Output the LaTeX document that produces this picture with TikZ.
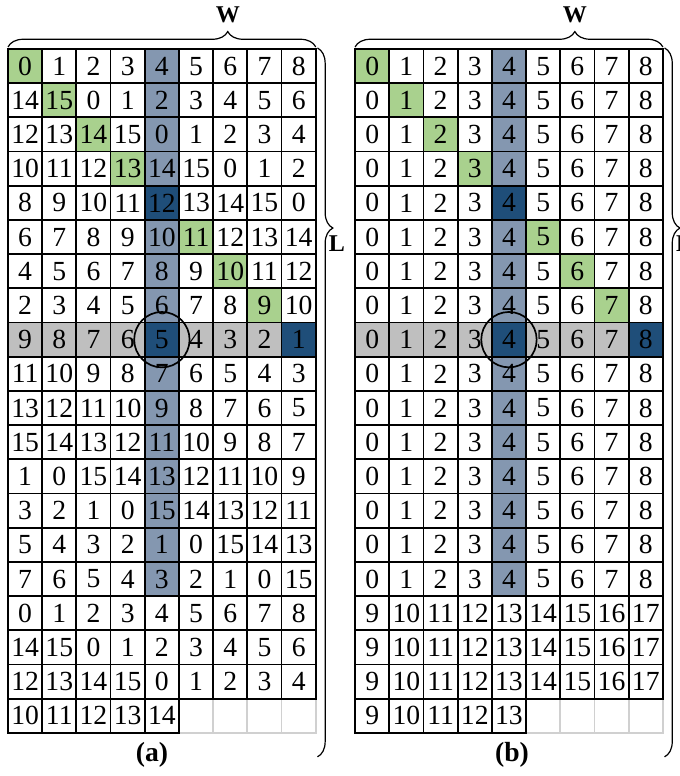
\documentclass[tikz,border=0pt]{standalone}
\usepackage{fontspec}
\setmainfont{Liberation Serif}
\usetikzlibrary{decorations.pathreplacing}

\definecolor{cellgreen}{HTML}{A9D18E}
\definecolor{cellblue}{HTML}{8497B0}
\definecolor{celldark}{HTML}{1F4E79}
\definecolor{cellgray}{HTML}{BFBFBF}
\definecolor{emptygray}{HTML}{D0D0D0}

% rows of the two tables
\newcommand\rowsA{{0,1,2,3,4,5,6,7,8},{14,15,0,1,2,3,4,5,6},{12,13,14,15,0,1,2,3,4},
  {10,11,12,13,14,15,0,1,2},{8,9,10,11,12,13,14,15,0},{6,7,8,9,10,11,12,13,14},
  {4,5,6,7,8,9,10,11,12},{2,3,4,5,6,7,8,9,10},{9,8,7,6,5,4,3,2,1},
  {11,10,9,8,7,6,5,4,3},{13,12,11,10,9,8,7,6,5},{15,14,13,12,11,10,9,8,7},
  {1,0,15,14,13,12,11,10,9},{3,2,1,0,15,14,13,12,11},{5,4,3,2,1,0,15,14,13},
  {7,6,5,4,3,2,1,0,15},{0,1,2,3,4,5,6,7,8},{14,15,0,1,2,3,4,5,6},
  {12,13,14,15,0,1,2,3,4},{10,11,12,13,14}}
\newcommand\rowsB{{0,1,2,3,4,5,6,7,8},{0,1,2,3,4,5,6,7,8},{0,1,2,3,4,5,6,7,8},
  {0,1,2,3,4,5,6,7,8},{0,1,2,3,4,5,6,7,8},{0,1,2,3,4,5,6,7,8},
  {0,1,2,3,4,5,6,7,8},{0,1,2,3,4,5,6,7,8},{0,1,2,3,4,5,6,7,8},
  {0,1,2,3,4,5,6,7,8},{0,1,2,3,4,5,6,7,8},{0,1,2,3,4,5,6,7,8},
  {0,1,2,3,4,5,6,7,8},{0,1,2,3,4,5,6,7,8},{0,1,2,3,4,5,6,7,8},
  {0,1,2,3,4,5,6,7,8},{9,10,11,12,13,14,15,16,17},{9,10,11,12,13,14,15,16,17},
  {9,10,11,12,13,14,15,16,17},{9,10,11,12,13}}

% #1 x offset, #2 name, #3 rows
\newcommand\drawgrid[3]{%
  \foreach \row [count=\r from 0] in #3 {
    \foreach \v [count=\c from 0] in \row {
      \draw[cellline] (#1+\c,-\r) rectangle ++(1,-1);
      \node[celltext] (#2-\r-\c) at (#1+\c+0.5,-\r-0.5) {\v};
    }
  }%
}

\begin{document}
\begin{tikzpicture}[
  cellline/.style={line width=1.5pt},
  emptyline/.style={line width=1.5pt, color=emptygray},
  celltext/.style={font=\fontsize{23}{26}\selectfont, inner sep=0pt},
  ring/.style={draw, circle, minimum size=1.62cm, line width=1.4pt},
  sizebrace/.style={decorate, decoration={brace, amplitude=0.45cm, aspect=#1}, line width=1pt},
  dimlabel/.style={font=\fontsize{20}{22}\selectfont\bfseries, inner sep=0pt},
  caption/.style={font=\fontsize{23}{26}\selectfont\bfseries, inner sep=0pt}]
  \useasboundingbox (-0.234,1.433) rectangle (19.65,-21.26);

  % shaded cells
  \foreach \ox in {0,10.15} {
    \fill[cellgray] (\ox,-8) rectangle ++(9,-1);
    \fill[cellblue] (\ox+4,0) rectangle ++(1,-16);
    \foreach \k in {0,1,2,3,5,6,7}
      \fill[cellgreen] (\ox+\k,-\k) rectangle ++(1,-1);
    \foreach \k/\j in {4/4,8/4,8/8}
      \fill[celldark] (\ox+\j,-\k) rectangle ++(1,-1);
    \foreach \j in {5,...,8}
      \draw[emptyline] (\ox+\j,-19) rectangle ++(1,-1);
  }

  % tables
  \drawgrid{0}{a}{\rowsA}
  \drawgrid{10.15}{b}{\rowsB}

  \node[ring] (a-ring) at (a-8-4) {};
  \node[ring] (b-ring) at (b-8-4) {};

  % braces
  \foreach \ox/\g in {0/a,10.15/b} {
    \draw[sizebrace=0.714] (\ox,0.06) -- (\ox+9,0.06);
    \node[dimlabel] (\g-w) at (\ox+6.43,1.0) {W};
    \draw[sizebrace=0.254] (\ox+9.05,0.03) -- (\ox+9.05,-20.7);
    \node[dimlabel] (\g-l) at (\ox+9.62,-5.68) {L};
  }

  \node[caption] (a-cap) at (4.21,-20.64) {(a)};
  \node[caption] (b-cap) at (14.74,-20.64) {(b)};
\end{tikzpicture}
\end{document}
